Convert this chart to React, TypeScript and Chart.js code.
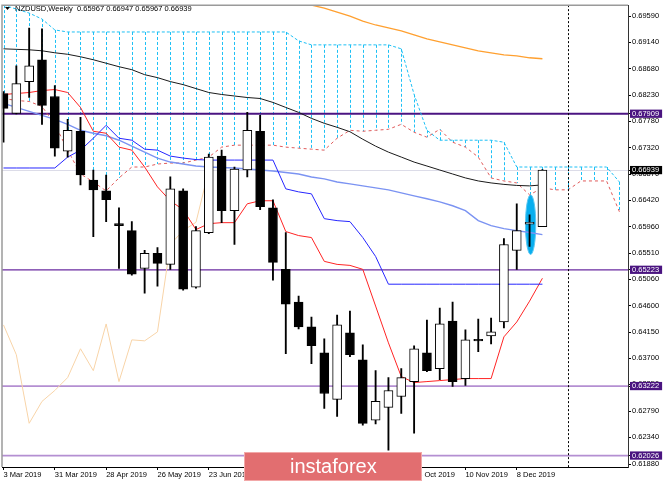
import React, { useEffect, useRef } from "react";
import { Chart, registerables } from "chart.js";

Chart.register(...registerables);

// ---------- data ----------
const X_TICK_INDEX = [0, 4, 8, 12, 16, 20, 24, 28, 32, 36, 40];
const X_TICK_LABELS = [
  "3 Mar 2019", "31 Mar 2019", "28 Apr 2019", "26 May 2019", "23 Jun 2019",
  "21 Jul 2019", "18 Aug 2019", "15 Sep 2019", "13 Oct 2019", "10 Nov 2019", "8 Dec 2019",
];

const OPEN = [
  0.68257, 0.67915, 0.68462, 0.68838, 0.68205, 0.67265, 0.67607, 0.66769, 0.66581, 0.66017,
  0.65898, 0.65248, 0.65505, 0.65316, 0.66581, 0.64923, 0.65864, 0.67180, 0.66240, 0.66940,
  0.67607, 0.66291, 0.65231, 0.64667, 0.64240, 0.63795, 0.62992, 0.64137, 0.63675, 0.62633,
  0.62855, 0.63043, 0.63299, 0.63795, 0.63522, 0.64342, 0.63351, 0.64017, 0.64086, 0.64325,
  0.65556, 0.66010, 0.65967,
];
const HIGH = [
  0.68291, 0.68735, 0.69385, 0.69368, 0.68393, 0.67812, 0.67846, 0.66940, 0.66855, 0.66291,
  0.66052, 0.65556, 0.65607, 0.66821, 0.66616, 0.65966, 0.67214, 0.67282, 0.66992, 0.67932,
  0.67881, 0.66428, 0.65864, 0.64770, 0.64411, 0.64034, 0.64445, 0.64513, 0.63932, 0.63487,
  0.63368, 0.63522, 0.63915, 0.64359, 0.64564, 0.64667, 0.64188, 0.64376, 0.64393, 0.65761,
  0.66359, 0.66171, 0.66947,
];
const LOW = [
  0.67419, 0.67905, 0.68188, 0.67727, 0.67180, 0.67163, 0.66684, 0.65795, 0.66052, 0.65248,
  0.65129, 0.64821, 0.64940, 0.65231, 0.64872, 0.64906, 0.65846, 0.66034, 0.65658, 0.66821,
  0.66257, 0.65043, 0.63778, 0.64205, 0.63607, 0.62838, 0.62701, 0.63727, 0.62547, 0.62570,
  0.62120, 0.62752, 0.62411, 0.63470, 0.63334, 0.63214, 0.63231, 0.63812, 0.63949, 0.64222,
  0.65231, 0.65624, 0.65967,
];
const CLOSE = [
  0.68000, 0.68428, 0.68735, 0.68052, 0.67316, 0.67624, 0.66855, 0.66599, 0.66428, 0.65983,
  0.65146, 0.65505, 0.65334, 0.66616, 0.64889, 0.65898, 0.67163, 0.66240, 0.66958, 0.67624,
  0.66308, 0.65351, 0.64633, 0.64240, 0.63915, 0.63094, 0.64274, 0.63761, 0.62581, 0.62958,
  0.63146, 0.63368, 0.63864, 0.63487, 0.64291, 0.63299, 0.64017, 0.64000, 0.64154, 0.65658,
  0.65898, 0.66040, 0.66939,
];

const MA_BLACK = [
  0.69026, 0.69017, 0.69009, 0.68992, 0.68958, 0.68932, 0.68889, 0.68838, 0.68778, 0.68718,
  0.68667, 0.68581, 0.68530, 0.68462, 0.68410, 0.68342, 0.68274, 0.68240, 0.68214, 0.68188,
  0.68171, 0.68103, 0.68017, 0.67932, 0.67829, 0.67744, 0.67675, 0.67599, 0.67470, 0.67351,
  0.67248, 0.67163, 0.67077, 0.67009, 0.66940, 0.66872, 0.66804, 0.66752, 0.66718, 0.66693,
  0.66675, 0.66667, 0.66684,
];
const MA_LIGHTBLUE = [
  0.68086, 0.68017, 0.67949, 0.67881, 0.67812, 0.67727, 0.67624, 0.67573, 0.67530, 0.67453,
  0.67351, 0.67248, 0.67146, 0.67077, 0.67043, 0.67009, 0.66992, 0.66983, 0.66975, 0.66958,
  0.66940, 0.66923, 0.66898, 0.66872, 0.66821, 0.66787, 0.66735, 0.66701, 0.66667, 0.66633,
  0.66599, 0.66547, 0.66496, 0.66445, 0.66393, 0.66325, 0.66240, 0.66069, 0.65983, 0.65932,
  0.65898, 0.65864, 0.65829,
];
const MA_ORANGE = [
  null, null, null, null, null, null, null, null, null, null,
  null, null, null, null, null, null, null, null, null, null,
  null, null, 0.69915, 0.69829, 0.69778, 0.69727, 0.69658, 0.69590, 0.69504, 0.69436,
  0.69385, 0.69334, 0.69265, 0.69197, 0.69146, 0.69094, 0.69043, 0.68992, 0.68958, 0.68923,
  0.68906, 0.68872, 0.68855,
];
const KIJUN = [
  0.66975, 0.66975, 0.66975, 0.66975, 0.66975, 0.67163, 0.67282, 0.67487, 0.67710, 0.67487,
  0.67453, 0.67299, 0.67282, 0.67180, 0.67146, 0.67120, 0.67111, 0.67111, 0.67111, 0.67111,
  0.67111, 0.67111, 0.66616, 0.66564, 0.66530, 0.66103, 0.66069, 0.66052, 0.65778, 0.65453,
  0.64975, 0.64975, 0.64975, 0.64975, 0.64975, 0.64975, 0.64975, 0.64975, 0.64975, 0.64975,
  0.64975, 0.64975, 0.64975,
];
const TENKAN = [
  0.68240, 0.68257, 0.68274, 0.68308, 0.68325, 0.68274, 0.68017, 0.67607, 0.67573, 0.67334,
  0.67282, 0.66992, 0.66650, 0.66411, 0.66257, 0.65915, 0.66017, 0.66034, 0.66034, 0.66359,
  0.66411, 0.66411, 0.65881, 0.65812, 0.65778, 0.65368, 0.65316, 0.65299, 0.65231, 0.64599,
  0.63966, 0.63385, 0.63282, 0.63299, 0.63316, 0.63334, 0.63351, 0.63351, 0.63351, 0.64069,
  0.64325, 0.64684, 0.65077,
];
const SPAN_A = [
  0.68171, 0.68137, 0.68120, 0.68034, 0.67727, 0.67282, 0.66872, 0.66735, 0.66581, 0.66804,
  0.66992, 0.66992, 0.67043, 0.67060, 0.67060, 0.67111, 0.67163, 0.67334, 0.67368, 0.67368,
  0.67368, 0.67368, 0.67334, 0.67316, 0.67299, 0.67282, 0.67487, 0.67624, 0.67607, 0.67624,
  0.67641, 0.67727, 0.67590, 0.67505, 0.67641, 0.67419, 0.67334, 0.67163, 0.66804, 0.66752,
  0.66718, 0.66513, 0.66633, 0.66599, 0.66599, 0.66752, 0.66752, 0.66752, 0.66222,
];
const SPAN_B = [
  0.69778, 0.69710, 0.69641, 0.69539, 0.69351, 0.69316, 0.69316, 0.69316, 0.69316, 0.69316,
  0.69316, 0.69316, 0.69316, 0.69316, 0.69316, 0.69316, 0.69316, 0.69316, 0.69316, 0.69316,
  0.69316, 0.69316, 0.69316, 0.69163, 0.69094, 0.69094, 0.69094, 0.69094, 0.69094, 0.69094,
  0.69094, 0.69026, 0.68240, 0.67624, 0.67453, 0.67453, 0.67453, 0.67453, 0.67453, 0.67419,
  0.66992, 0.66992, 0.66992, 0.66992, 0.66992, 0.66992, 0.66992, 0.66992, 0.66735,
];
const CHIKOU_SHIFT = 26;

const Y_TICKS = [
  0.6959, 0.6914, 0.6868, 0.6823, 0.6778, 0.6732, 0.6687, 0.6642, 0.6596, 0.6551,
  0.6506, 0.646, 0.6415, 0.637, 0.6325, 0.6279, 0.6234, 0.6188,
];
const LEVELS = [0.67909, 0.65223, 0.63222, 0.62026];
const LEVEL_COLORS = ["#4b1482", "#6a2ba0", "#b48fd2", "#b48fd2"];
const LEVEL_WIDTHS = [2, 1.3, 1.8, 1.8];
const BID = 0.66939;
const MARKER_INDEX = 44;
const ELLIPSE_X = 41.08;
const ELLIPSE_HALF_W = 0.4;
const ELLIPSE_TOP = 0.66513;
const ELLIPSE_BOTTOM = 0.65487;

const TITLE = "NZDUSD,Weekly  0.65967 0.66947 0.65967 0.66939";
const WATERMARK = "instaforex";

const Y_MIN = 0.61829;
const Y_MAX = 0.69778;
const X_MIN = -0.117;
const X_MAX = 48.67;

const FONT = '"Liberation Sans", Arial, sans-serif';

const pts = (arr: (number | null)[], shift = 0) =>
  arr
    .map((v, i) => (v == null ? null : { x: i + shift, y: v }))
    .filter((p) => p !== null);

const decor = {
  id: "decor",
  beforeDatasetsDraw(chart: any) {
    const { ctx, chartArea: a, scales } = chart;
    const x = scales.x;
    const y = scales.y;
    ctx.save();
    ctx.beginPath();
    ctx.rect(a.left, a.top, a.right - a.left, a.bottom - a.top);
    ctx.clip();
    // bid line
    ctx.strokeStyle = "#dcdce8";
    ctx.lineWidth = 1;
    let py = Math.round(y.getPixelForValue(BID)) + 0.5;
    ctx.beginPath();
    ctx.moveTo(a.left, py);
    ctx.lineTo(a.right, py);
    ctx.stroke();
    // hatch of cloud
    ctx.strokeStyle = "#1ec0f5";
    ctx.setLineDash([3, 2]);
    for (let i = 0; i < SPAN_A.length; i++) {
      const px = Math.round(x.getPixelForValue(i)) + 0.5;
      ctx.beginPath();
      ctx.moveTo(px, y.getPixelForValue(SPAN_B[i]));
      ctx.lineTo(px, y.getPixelForValue(SPAN_A[i]));
      ctx.stroke();
    }
    ctx.setLineDash([]);
    // levels
    LEVELS.forEach((lv, k) => {
      const ly = y.getPixelForValue(lv);
      ctx.strokeStyle = LEVEL_COLORS[k];
      ctx.lineWidth = LEVEL_WIDTHS[k];
      ctx.beginPath();
      ctx.moveTo(a.left, ly);
      ctx.lineTo(a.right, ly);
      ctx.stroke();
    });
    // ellipse
    const cx = x.getPixelForValue(ELLIPSE_X);
    const rx = x.getPixelForValue(ELLIPSE_X + ELLIPSE_HALF_W) - cx;
    const top = y.getPixelForValue(ELLIPSE_TOP);
    const bot = y.getPixelForValue(ELLIPSE_BOTTOM);
    ctx.fillStyle = "#08aeee";
    ctx.strokeStyle = "#5cc8f2";
    ctx.lineWidth = 1;
    ctx.beginPath();
    ctx.ellipse(cx, (top + bot) / 2, rx, (bot - top) / 2, 0, 0, Math.PI * 2);
    ctx.fill();
    ctx.stroke();
    ctx.restore();
  },
  afterDraw(chart: any) {
    const { ctx, chartArea: a, scales } = chart;
    const x = scales.x;
    ctx.save();
    // vertical separator
    ctx.strokeStyle = "#000";
    ctx.lineWidth = 1;
    ctx.setLineDash([2, 2]);
    const vx = Math.round(x.getPixelForValue(MARKER_INDEX)) + 0.5;
    ctx.beginPath();
    ctx.moveTo(vx, a.top);
    ctx.lineTo(vx, a.bottom);
    ctx.stroke();
    ctx.setLineDash([]);
    // left/top frame
    ctx.strokeStyle = "#9a9a9a";
    ctx.lineWidth = 1.5;
    ctx.beginPath();
    ctx.moveTo(a.left, a.bottom);
    ctx.lineTo(a.left, a.top);
    ctx.lineTo(a.right, a.top);
    ctx.stroke();
    // title
    ctx.fillStyle = "#000";
    ctx.beginPath();
    ctx.moveTo(5, 7);
    ctx.lineTo(10, 7);
    ctx.lineTo(7.5, 10);
    ctx.closePath();
    ctx.fill();
    ctx.font = "7.5px " + FONT;
    ctx.textBaseline = "alphabetic";
    ctx.textAlign = "left";
    ctx.fillText(TITLE, 15, 11);
    // watermark
    ctx.fillStyle = "#e26e70";
    ctx.fillRect(244, 452, 178, 29);
    ctx.strokeStyle = "#f2a8a8";
    ctx.lineWidth = 1;
    ctx.strokeRect(244.5, 452.5, 177, 28);
    ctx.fillStyle = "#ffffff";
    ctx.font = "20px " + FONT;
    ctx.fillText(WATERMARK, 290, 473);
    ctx.restore();
  },
};

export default function App() {
  const ref = useRef<HTMLCanvasElement | null>(null);
  useEffect(() => {
    if (!ref.current) return;
    const chikou = CLOSE.slice(CHIKOU_SHIFT);
    const specials = [BID, ...LEVELS];
    const isSpecial = (v: number) => specials.some((s) => Math.abs(s - v) < 1e-7);
    const lineDs = (label: string, data: any[], color: string, width: number, order: number, dash?: number[]) => ({
      type: "line" as const,
      label,
      data,
      borderColor: color,
      borderWidth: width,
      borderDash: dash || [],
      pointRadius: 0,
      fill: false,
      tension: 0,
      order,
    });
    const chart = new Chart(ref.current, {
      type: "bar",
      data: {
        datasets: [
          {
            type: "bar",
            label: "body",
            data: OPEN.map((o, i) => ({ x: i, y: [o, CLOSE[i]] })) as any,
            backgroundColor: OPEN.map((o, i) => (CLOSE[i] >= o ? "#ffffff" : "#000000")),
            borderColor: "#000",
            borderWidth: 1,
            borderSkipped: false,
            barThickness: 9,
            minBarLength: 1.5,
            grouped: false,
            order: 0,
          },
          {
            type: "bar",
            label: "wick",
            data: LOW.map((l, i) => ({ x: i, y: [l, HIGH[i]] })) as any,
            backgroundColor: "#000",
            borderWidth: 0,
            barThickness: 1.2,
            grouped: false,
            order: 1,
          },
          lineDs("chikou", pts(chikou), "#f8d4a8", 1, 9),
          lineDs("spanB", pts(SPAN_B), "#1ec0f5", 1, 8, [3, 2]),
          lineDs("spanA", pts(SPAN_A), "#e05a5a", 1, 8, [3, 3]),
          lineDs("orange", pts(MA_ORANGE), "#ffa030", 1.3, 7),
          lineDs("black", pts(MA_BLACK), "#1a1a1a", 1, 6),
          lineDs("lightblue", pts(MA_LIGHTBLUE), "#7b93f2", 1.4, 6),
          lineDs("kijun", pts(KIJUN), "#2626ff", 1, 5),
          lineDs("tenkan", pts(TENKAN), "#ff2424", 1, 5),
        ] as any,
      },
      options: {
        animation: false,
        responsive: true,
        maintainAspectRatio: false,
        devicePixelRatio: 1,
        layout: { padding: { left: 2, top: 2, right: 0, bottom: 0 } },
        plugins: {
          legend: { display: false },
          tooltip: { enabled: false },
          title: { display: false },
        },
        scales: {
          x: {
            type: "linear",
            min: X_MIN,
            max: X_MAX,
            offset: false,
            afterBuildTicks: (s: any) => {
              s.ticks = X_TICK_INDEX.map((v) => ({ value: v }));
            },
            afterFit: (s: any) => {
              s.height = 16;
            },
            ticks: {
              autoSkip: false,
              maxRotation: 0,
              minRotation: 0,
              align: "start",
              padding: 0,
              color: "#000",
              font: { family: FONT, size: 7.5 },
              callback: (_v: any, i: number) => X_TICK_LABELS[i],
            },
            grid: { drawOnChartArea: false, drawTicks: true, tickLength: 3, color: "#000", offset: false },
            border: { display: true, color: "#000" },
          },
          y: {
            type: "linear",
            position: "right",
            min: Y_MIN,
            max: Y_MAX,
            afterBuildTicks: (s: any) => {
              s.ticks = [...Y_TICKS, BID, ...LEVELS].map((v) => ({ value: v }));
            },
            afterFit: (s: any) => {
              s.width = 37;
            },
            ticks: {
              autoSkip: false,
              padding: 1,
              font: { family: FONT, size: 7.5, lineHeight: 1.1 },
              color: (c: any) => (isSpecial(c.tick.value) ? "#ffffff" : "#000000"),
              showLabelBackdrop: (c: any) => isSpecial(c.tick.value),
              backdropColor: (c: any) => (Math.abs(c.tick.value - BID) < 1e-7 ? "#000000" : "#4a1480"),
              backdropPadding: { top: 0, bottom: 0, left: 2, right: 3 },
              callback: (v: any) => Number(v).toFixed(5),
            },
            grid: { drawOnChartArea: false, drawTicks: true, tickLength: 3, color: "#000" },
            border: { display: true, color: "#333" },
          },
        },
      } as any,
      plugins: [decor],
    });
    return () => chart.destroy();
  }, []);
  return (
    <div style={{ position: "fixed", left: 0, top: 0, width: 665, height: 483, background: "#fff" }}>
      <canvas ref={ref} />
    </div>
  );
}
